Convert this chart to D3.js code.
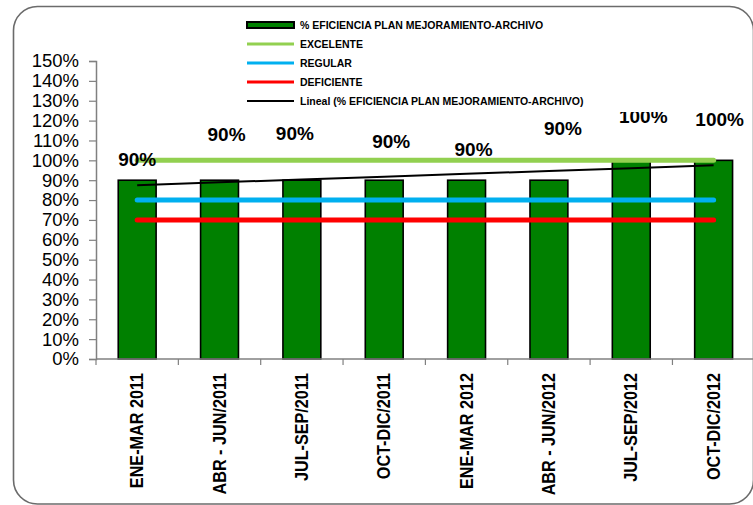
<!DOCTYPE html>
<html lang="es">
  <head>
    <meta charset="utf-8">
    <title>Eficiencia plan mejoramiento - archivo</title>
    <script src="https://d3js.org/d3.v7.js"></script>
    <style>
      body { margin: 0; background: #fff; }
      text { font-family: "Liberation Sans", Arial, sans-serif; }
    </style>
  </head>
  <body>
    <script>

  // data
  var categories = ["ENE-MAR 2011", "ABR - JUN/2011", "JUL-SEP/2011", "OCT-DIC/2011",
                    "ENE-MAR 2012", "ABR - JUN/2012", "JUL-SEP/2012", "OCT-DIC/2012"];
  var eficiencia = [0.90, 0.90, 0.90, 0.90, 0.90, 0.90, 1.00, 1.00];
  var excelente  = [1.00, 1.00, 1.00, 1.00, 1.00, 1.00, 1.00, 1.00];
  var regular    = [0.80, 0.80, 0.80, 0.80, 0.80, 0.80, 0.80, 0.80];
  var deficiente = [0.70, 0.70, 0.70, 0.70, 0.70, 0.70, 0.70, 0.70];
  var yTicks = d3.range(0, 16).map(d => d / 10);
  var legendNames = ["% EFICIENCIA PLAN MEJORAMIENTO-ARCHIVO", "EXCELENTE", "REGULAR",
                     "DEFICIENTE", "Lineal (% EFICIENCIA PLAN MEJORAMIENTO-ARCHIVO)"];

  // data label nudges (dx, dy in px from the bar top), they were dragged by hand
  var labelNudge = [[0, -14], [7, -39], [-7, -40], [7, -32], [7, -24], [14, -45], [12, -37], [6, -34]];

  var w = 753, h = 505;
  var margin = {top: 61, left: 96, bottom: 146};
  var innerHeight = h - margin.top - margin.bottom;
  var band = 82.35;

  var svg = d3.select("body").append("svg")
    .attr("width", w)
    .attr("height", h);

  // outer frame
  svg.append("rect")
    .attr("x", 13.5).attr("y", 6.5)
    .attr("width", 740).attr("height", 497.5)
    .attr("rx", 24).attr("ry", 24)
    .attr("fill", "#fff")
    .attr("stroke", "#6b6b6b")
    .attr("stroke-width", 1.6);

  var xScale = d3.scaleBand()
    .domain(categories)
    .range([0, band * categories.length])
    .paddingInner(0.54)
    .paddingOuter(0.27);

  var yScale = d3.scaleLinear()
    .domain([0, 1.5])
    .range([innerHeight, 0]);

  var g = svg.append("g")
    .attr("transform", `translate(${margin.left}, ${margin.top})`);

  var cx = d => xScale(d) + xScale.bandwidth() / 2;

  // bars
  g.selectAll("rect.bar")
    .data(eficiencia)
    .enter()
    .append("rect")
    .attr("class", "bar")
    .attr("x", (d, i) => xScale(categories[i]))
    .attr("y", d => yScale(d))
    .attr("width", xScale.bandwidth())
    .attr("height", d => innerHeight - yScale(d))
    .attr("fill", "#008000")
    .attr("stroke", "#000")
    .attr("stroke-width", 1.6);

  // reference lines
  var line = d3.line()
    .x((d, i) => cx(categories[i]))
    .y(d => yScale(d));

  var refs = [
    {values: excelente, color: "#92d050"},
    {values: regular, color: "#00b0f0"},
    {values: deficiente, color: "#ff0000"}
  ];

  refs.forEach(function (r) {
    g.append("path")
      .attr("d", line(r.values))
      .attr("fill", "none")
      .attr("stroke", r.color)
      .attr("stroke-width", 5)
      .attr("stroke-linecap", "round");
  });

  // linear trend (least squares on the bar values)
  var xs = d3.range(1, eficiencia.length + 1);
  var mx = d3.mean(xs), my = d3.mean(eficiencia);
  var slope = d3.sum(xs, (x, i) => (x - mx) * (eficiencia[i] - my)) / d3.sum(xs, x => (x - mx) * (x - mx));
  var trend = xs.map(x => my + slope * (x - mx));

  g.append("path")
    .attr("d", line(trend))
    .attr("fill", "none")
    .attr("stroke", "#000")
    .attr("stroke-width", 2);

  // data labels
  g.selectAll("text.val")
    .data(eficiencia)
    .enter()
    .append("text")
    .attr("class", "val")
    .attr("x", (d, i) => cx(categories[i]) + labelNudge[i][0])
    .attr("y", (d, i) => yScale(d) + labelNudge[i][1])
    .attr("text-anchor", "middle")
    .style("font-size", "19px")
    .style("font-weight", "bold")
    .text(d => d3.format(".0%")(d));

  // axes
  var yAxis = d3.axisLeft(yScale)
    .tickValues(yTicks)
    .tickFormat(d3.format(".0%"))
    .tickSize(7)
    .tickPadding(10);

  var yG = g.append("g").call(yAxis);
  yG.select(".domain").attr("stroke", "#808080").attr("stroke-width", 1.5);
  yG.selectAll(".tick line").attr("stroke", "#808080").attr("stroke-width", 1.2);
  yG.selectAll(".tick text")
    .style("font-size", "18.5px")
    .attr("fill", "#000");

  var xAxisLine = g.append("g")
    .attr("transform", `translate(0, ${innerHeight})`);

  xAxisLine.append("line")
    .attr("x1", 0).attr("x2", xScale.range()[1])
    .attr("stroke", "#808080").attr("stroke-width", 1.5);

  xAxisLine.selectAll("line.tk")
    .data(d3.range(0, categories.length + 1))
    .enter()
    .append("line")
    .attr("class", "tk")
    .attr("x1", d => d * band).attr("x2", d => d * band)
    .attr("y1", 0).attr("y2", 6)
    .attr("stroke", "#808080").attr("stroke-width", 1.2);

  xAxisLine.selectAll("text")
    .data(categories)
    .enter()
    .append("text")
    .attr("transform", d => `translate(${cx(d) + 6}, 14) rotate(-90) scale(0.9, 1)`)
    .attr("text-anchor", "end")
    .style("font-size", "18px")
    .style("font-weight", "bold")
    .text(d => d);

  // legend (white box hides the top of one label, as in the original)
  var legend = svg.append("g");
  legend.append("rect")
    .attr("x", 240).attr("y", 12)
    .attr("width", 440).attr("height", 100)
    .attr("fill", "#fff");

  var items = legend.selectAll("g.item")
    .data(legendNames)
    .enter()
    .append("g")
    .attr("class", "item")
    .attr("transform", (d, i) => `translate(247, ${25 + i * 19})`);

  items.each(function (d, i) {
    var it = d3.select(this);
    if (i === 0) {
      it.append("rect")
        .attr("x", 0).attr("y", -3)
        .attr("width", 47).attr("height", 6)
        .attr("fill", "#008000")
        .attr("stroke", "#000")
        .attr("stroke-width", 2);
    } else {
      var colors = ["", "#92d050", "#00b0f0", "#ff0000", "#000"];
      it.append("line")
        .attr("x1", 0).attr("x2", 47)
        .attr("stroke", colors[i])
        .attr("stroke-width", i === 4 ? 2 : 3);
    }
    it.append("text")
      .attr("x", 53)
      .attr("dy", "0.35em")
      .style("font-size", "10.5px")
      .style("font-weight", "bold")
      .text(d);
  });

    </script>
  </body>
</html>
